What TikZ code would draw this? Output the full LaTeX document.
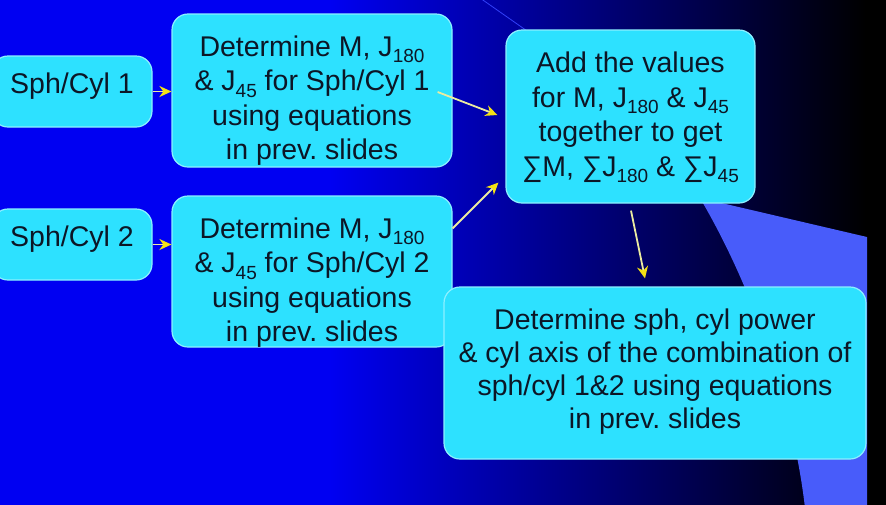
\documentclass[tikz,border=0pt]{standalone}
\usepackage{fontspec}
\setmainfont{Liberation Sans}
\usetikzlibrary{calc,arrows.meta}
\definecolor{slideblue}{RGB}{0,0,242}
\definecolor{bandblue}{RGB}{72,92,250}
\definecolor{boxcyan}{RGB}{45,225,255}
\definecolor{boxrim}{RGB}{140,240,255}
\definecolor{inkdark}{RGB}{12,22,38}
\definecolor{arrowline}{RGB}{235,235,160}
\definecolor{arrowhead}{RGB}{245,225,20}
\newcommand{\sub}[1]{\raisebox{-0.24em}{\fontsize{19}{19}\selectfont #1}}
\frenchspacing
\tikzset{
	stepbox/.style={draw=boxrim, line width=1.2pt, fill=boxcyan, rounded corners=16pt, inner sep=0pt},
	steptext/.style={text=inkdark, align=center, font=\fontsize{28.5}{34.5}\selectfont, inner sep=0pt},
	flow/.style={draw=arrowline, line width=1.8pt,
		-{Stealth[length=12pt, width=11pt, color=arrowhead]}}
}
\begin{document}
\begin{tikzpicture}[x=1pt, y=-1pt]
			%%%%% START %%%%%
			\useasboundingbox (0, 0) rectangle (886, 504);
			
			% slide background
			\fill[slideblue] (-2, -2) rectangle (330, 508);
			\shade[left color=slideblue, right color=black] (329, -2) rectangle (866, 508);
			\fill[black] (865, -2) rectangle (888, 508);
			\fill[bandblue] (700, 198) -- (867, 237) -- (867, 508) -- (805, 508)
				.. controls (795, 420) and (760, 300) .. (700, 198) -- cycle;
			\draw[line width=0.8pt, color=bandblue!70!slideblue] (480, -2) -- (540, 40);
			
			% boxes
			\node[stepbox, minimum width=160, minimum height=71] (sph1) at (72, 91.5) {};
			\node[steptext] (sph1-txt) at ($(sph1)+(0, -5)$) {Sph/Cyl 1};
			\node[stepbox, minimum width=160, minimum height=71] (sph2) at (72, 244.5) {};
			\node[steptext] (sph2-txt) at ($(sph2)+(0, -5)$) {Sph/Cyl 2};
			
			\node[stepbox, minimum width=280, minimum height=153] (det1) at (312, 90.5) {};
			\node[steptext] (det1-txt) at ($(det1)+(0, 10)$)
				{Determine M, J\sub{180}\\ \& J\sub{45} for Sph/Cyl 1\\ using equations\\ in prev. slides};
			\node[stepbox, minimum width=280, minimum height=151] (det2) at (312, 271.5) {};
			\node[steptext] (det2-txt) at ($(det2)+(0, 11)$)
				{Determine M, J\sub{180}\\ \& J\sub{45} for Sph/Cyl 2\\ using equations\\ in prev. slides};
			
			\node[stepbox, minimum width=249, minimum height=173] (sum) at (630.5, 116.5) {};
			\node[steptext] (sum-txt) at ($(sum)+(0, 1)$)
				{Add the values\\ for M, J\sub{180} \& J\sub{45}\\ together to get\\ ∑M, ∑J\sub{180} \& ∑J\sub{45}};
			
			\node[stepbox, minimum width=422, minimum height=172] (comb) at (655, 373) {};
			\node[steptext, font=\fontsize{28.5}{33}\selectfont] (comb-txt) at ($(comb)+(0, -1)$)
				{Determine sph, cyl power\\ \& cyl axis of the combination of\\ sph/cyl 1\&2 using equations\\ in prev. slides};
			
			% arrows
			\draw[flow] (sph1.east) -- (sph1.east -| det1.west);
			\draw[flow] (sph2.east) -- (sph2.east -| det2.west);
			\draw[flow] ($(det1.east)+(-15, 1.5)$) -- ($(sum.west)+(-8, -1.5)$);
			\draw[flow] ($(det2.north east)+(0, 33)$) -- ($(sum.south west)+(-7, -21)$);
			\draw[flow] ($(sum.south)+(0.5, 7)$) -- ($(comb.north)+(-10, -8)$);
			%%%%% END %%%%%
\end{tikzpicture}
\end{document}
